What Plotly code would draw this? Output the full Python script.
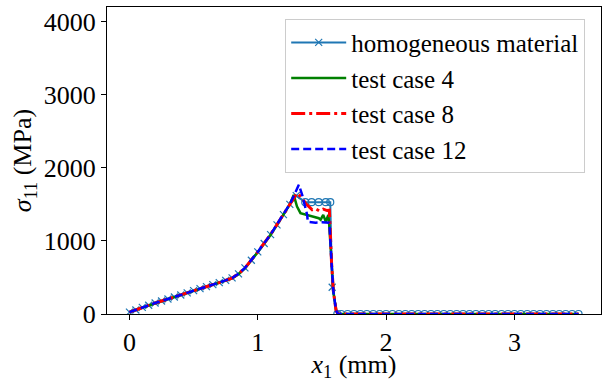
import plotly.graph_objects as go

# ---------------- data ----------------
hom_x = [0.0, 0.05, 0.1, 0.15, 0.2, 0.25, 0.3, 0.35, 0.4, 0.45, 0.5, 0.55, 0.6, 0.65, 0.7,
         0.75, 0.8, 0.85, 0.9, 0.95, 1.0, 1.05, 1.1, 1.15, 1.2, 1.25, 1.3,
         1.37, 1.42, 1.475, 1.53, 1.565, 1.58, 1.62,
         1.65, 1.7, 1.75, 1.8, 1.85, 1.9, 1.95, 2.0, 2.05, 2.1, 2.15, 2.2, 2.25, 2.3, 2.35,
         2.4, 2.45, 2.5, 2.55, 2.6, 2.65, 2.7, 2.75, 2.8, 2.85, 2.9, 2.95, 3.0, 3.05, 3.1,
         3.15, 3.2, 3.25, 3.3, 3.35, 3.4, 3.45, 3.5]
hom_y = [25, 55, 90, 120, 150, 178, 205, 232, 260, 290, 320, 348, 375, 402, 430,
         460, 495, 550, 630, 735, 850, 965, 1085, 1220, 1360, 1500, 1620,
         1530, 1530, 1530, 1530, 1530, 366, 0,
         0, 0, 0, 0, 0, 0, 0, 0, 0, 0, 0, 0, 0, 0, 0,
         0, 0, 0, 0, 0, 0, 0, 0, 0, 0, 0, 0, 0, 0, 0,
         0, 0, 0, 0, 0, 0, 0, 0]
hom_symbols = (["x-thin-open"] * 27 + ["circle-open"] * 5 + ["x-thin-open"] +
               ["circle-open"] * 39)

tc4_x = [0.0, 0.1, 0.2, 0.3, 0.4, 0.5, 0.6, 0.7, 0.8, 0.85, 0.9, 1.0, 1.1, 1.2, 1.25,
         1.28, 1.306, 1.333, 1.385, 1.437, 1.476, 1.49, 1.51, 1.53, 1.55, 1.556,
         1.575, 1.59, 1.61, 1.625, 2.0, 2.5, 3.0, 3.5]
tc4_y = [25, 88, 148, 205, 258, 318, 372, 428, 488, 545, 625, 845, 1080, 1360, 1500,
         1630, 1470, 1379, 1356, 1333, 1310, 1290, 1356, 1265, 1356, 1240,
         700, 300, 50, 0, 0, 0, 0, 0]

tc8_x = [0.0, 0.1, 0.2, 0.3, 0.4, 0.5, 0.6, 0.7, 0.8, 0.85, 0.9, 1.0, 1.1, 1.2, 1.25,
         1.306, 1.333, 1.372, 1.424, 1.45, 1.48, 1.51, 1.54, 1.558,
         1.575, 1.59, 1.61, 1.625, 2.0, 2.5, 3.0, 3.5]
tc8_y = [25, 90, 150, 205, 260, 320, 375, 430, 492, 550, 630, 850, 1088, 1365, 1505,
         1653, 1610, 1516, 1425, 1440, 1410, 1435, 1415, 1420,
         700, 300, 50, 0, 0, 0, 0, 0]

tc12_x = [0.0, 0.1, 0.2, 0.3, 0.4, 0.5, 0.6, 0.7, 0.8, 0.85, 0.9, 1.0, 1.1, 1.2, 1.25,
          1.29, 1.32, 1.346, 1.372, 1.385, 1.39, 1.45, 1.5, 1.545, 1.558,
          1.575, 1.59, 1.61, 1.625, 2.0, 2.5, 3.0, 3.5]
tc12_y = [25, 90, 150, 205, 260, 320, 375, 430, 492, 550, 630, 850, 1088, 1365, 1505,
          1650, 1767, 1630, 1470, 1356, 1260, 1250, 1255, 1250, 1250,
          700, 300, 50, 0, 0, 0, 0, 0]

x_ticks = [0, 1, 2, 3]
y_ticks = [0, 1000, 2000, 3000, 4000]

# ---------------- figure ----------------
FONT = "Times New Roman, Liberation Serif, DejaVu Serif"
FS = 26
fig = go.Figure()
fig.add_trace(go.Scatter(
    x=hom_x, y=hom_y, mode="lines+markers", name="homogeneous material",
    line=dict(color="#1f77b4", width=2),
    marker=dict(symbol=hom_symbols, size=7, color="#1f77b4",
                line=dict(color="#1f77b4", width=1.2))))
fig.add_trace(go.Scatter(
    x=tc4_x, y=tc4_y, mode="lines", name="test case 4",
    line=dict(color="#008000", width=2.5)))
fig.add_trace(go.Scatter(
    x=tc8_x, y=tc8_y, mode="lines", name="test case 8",
    line=dict(color="#ff0000", width=3, dash="14px,4px,3px,4px")))
fig.add_trace(go.Scatter(
    x=tc12_x, y=tc12_y, mode="lines", name="test case 12",
    line=dict(color="#0000ff", width=2.5, dash="8px,4px")))

axis_common = dict(showline=True, linecolor="black", linewidth=1, mirror=True,
                   ticks="outside", ticklen=5, tickwidth=1, tickcolor="black",
                   showgrid=False, zeroline=False, automargin=False,
                   tickfont=dict(family=FONT, size=FS, color="black"))
fig.update_xaxes(range=[-0.175, 3.675], tickvals=x_ticks,
                 title=dict(text="<i>x</i><sub>1</sub> (mm)",
                            font=dict(family=FONT, size=FS, color="black"), standoff=4),
                 **axis_common)
fig.update_yaxes(range=[0, 4200], tickvals=y_ticks,
                 title=dict(text="<i>σ</i><sub>11</sub> (MPa)",
                            font=dict(family=FONT, size=FS, color="black"), standoff=4),
                 **axis_common)
fig.update_layout(
    width=610, height=382,
    font=dict(family=FONT),
    margin=dict(l=107, r=9, t=7, b=68, autoexpand=False),
    paper_bgcolor="white", plot_bgcolor="white",
    showlegend=True,
    legend=dict(x=0.968, y=0.962, xanchor="right", yanchor="top",
                bgcolor="rgba(255,255,255,0.8)", bordercolor="#cccccc", borderwidth=1,
                font=dict(family=FONT, size=25, color="black"),
                tracegroupgap=0, itemwidth=55),
)
fig.write_html("out.html", config={"displayModeBar": False},
               post_script="document.body.style.margin='0';")
